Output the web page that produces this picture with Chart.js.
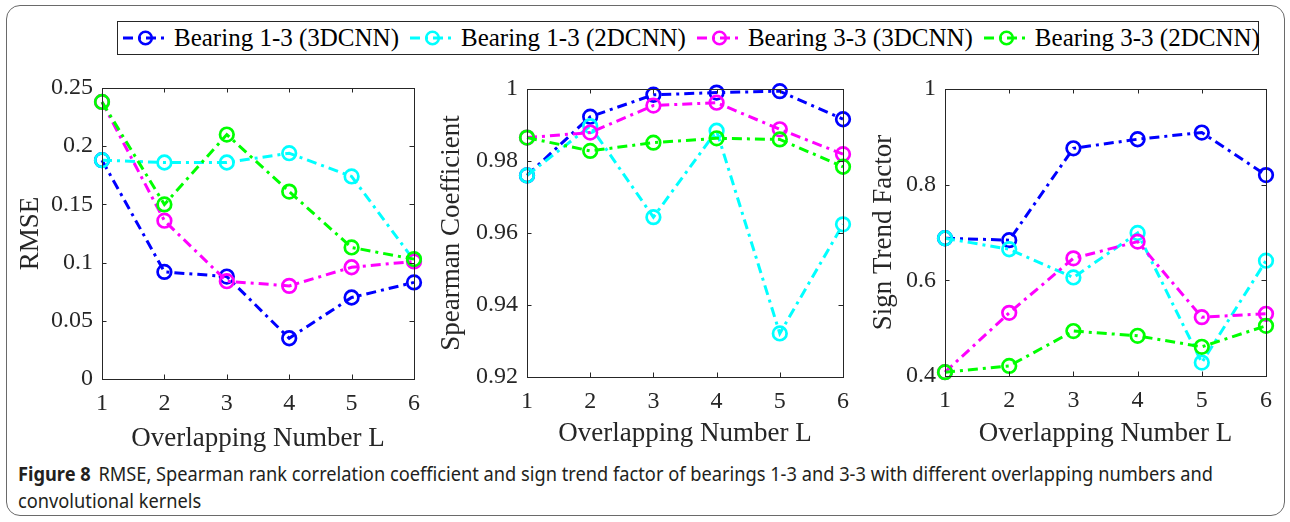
<!DOCTYPE html>
<html><head><meta charset="utf-8">
<script src="https://cdn.jsdelivr.net/npm/chart.js@4.4.0/dist/chart.umd.min.js"></script>
<style>
html,body{margin:0;padding:0;background:#fff;}
body{width:1290px;height:522px;position:relative;overflow:hidden;}
#frame{position:absolute;left:6px;top:5px;width:1279px;height:511px;border:1.5px solid #6a6a6a;border-radius:14px;box-sizing:border-box;}
canvas.cv{position:absolute;}
#legend{position:absolute;left:117px;top:21px;width:1142px;height:34px;border:1px solid #262626;box-sizing:border-box;background:#fff;
  display:flex;align-items:center;padding-left:5px;gap:11px;font-family:"Liberation Serif","Times New Roman",serif;font-size:25px;color:#000;}
.entry{display:flex;align-items:center;gap:6px;white-space:nowrap;}
.entry svg{display:block;}
#caption{position:absolute;left:18px;top:461px;font-family:"Noto Sans","Open Sans",sans-serif;font-size:19px;line-height:27px;color:#231f20;white-space:nowrap;transform-origin:0 0;}
#caption b{font-weight:bold;margin-right:8px;}
</style></head>
<body>
<div id="frame"></div>
<div id="legend"></div>
<canvas id="c1" class="cv"></canvas>
<canvas id="c2" class="cv"></canvas>
<canvas id="c3" class="cv"></canvas>
<div id="caption"><span id="cl1"><b>Figure 8</b>RMSE, Spearman rank correlation coefficient and sign trend factor of bearings 1-3 and 3-3 with different overlapping numbers and</span><br><span id="cl2">convolutional kernels</span></div>
<script>
// ---------------- data ----------------
const categories = [1, 2, 3, 4, 5, 6];
const seriesNames = ['Bearing 1-3 (3DCNN)', 'Bearing 1-3 (2DCNN)', 'Bearing 3-3 (3DCNN)', 'Bearing 3-3 (2DCNN)'];

const rmse_b13_3d = [0.188, 0.092, 0.088, 0.035, 0.070, 0.083];
const rmse_b13_2d = [0.188, 0.186, 0.186, 0.194, 0.174, 0.102];
const rmse_b33_3d = [0.238, 0.136, 0.084, 0.080, 0.096, 0.101];
const rmse_b33_2d = [0.238, 0.150, 0.210, 0.161, 0.113, 0.103];

const spear_b13_3d = [0.9760, 0.9923, 0.9984, 0.9990, 0.9994, 0.9916];
const spear_b13_2d = [0.9760, 0.9897, 0.9644, 0.9884, 0.9321, 0.9624];
const spear_b33_3d = [0.9865, 0.9879, 0.9954, 0.9962, 0.9888, 0.9819];
const spear_b33_2d = [0.9865, 0.9828, 0.9851, 0.9863, 0.9860, 0.9784];

const stf_b13_3d = [0.688, 0.684, 0.876, 0.895, 0.909, 0.820];
const stf_b13_2d = [0.688, 0.665, 0.606, 0.699, 0.428, 0.641];
const stf_b33_3d = [0.408, 0.532, 0.646, 0.681, 0.523, 0.530];
const stf_b33_2d = [0.408, 0.421, 0.494, 0.484, 0.461, 0.505];

const rmseTicks  = [0, 0.05, 0.1, 0.15, 0.2, 0.25];
const spearTicks = [0.92, 0.94, 0.96, 0.98, 1];
const stfTicks   = [0.4, 0.6, 0.8, 1];

const xTitle = 'Overlapping Number L';
const yTitles = ['RMSE', 'Spearman Coefficient', 'Sign Trend Factor'];

// ---------------- styles ----------------
const colors = ['#0000ff', '#00ffff', '#ff00ff', '#00ff00'];
const dashPattern = [10, 5, 3, 5];
const axisColor = '#262626';
const serif = '"Liberation Serif", "Times New Roman", serif';
Chart.defaults.font.family = serif;
Chart.defaults.font.size = 24;
Chart.defaults.color = axisColor;

// legend (HTML)
const legend = document.getElementById('legend');
seriesNames.forEach((n, i) => {
  const e = document.createElement('div');
  e.className = 'entry';
  e.innerHTML = `<svg width="45" height="30"><line x1="0" y1="15" x2="45" y2="15" stroke="${colors[i]}" stroke-width="3" stroke-dasharray="${dashPattern.join(' ')}"/><circle cx="22.5" cy="15" r="6.3" fill="none" stroke="${colors[i]}" stroke-width="2.6"/></svg><span>${n}</span>`;
  legend.appendChild(e);
});

// box + inward ticks plugin
const boxPlugin = {
  id: 'box',
  afterDatasetsDraw(chart) {
    const {ctx, chartArea: a, scales} = chart;
    ctx.save();
    ctx.strokeStyle = axisColor;
    ctx.lineWidth = 1;
    ctx.strokeRect(Math.round(a.left) + 0.5, Math.round(a.top) + 0.5, Math.round(a.right - a.left), Math.round(a.bottom - a.top));
    const L = 4.5;
    ctx.beginPath();
    scales.x.ticks.forEach((t, i) => {
      const px = Math.round(scales.x.getPixelForTick(i)) + 0.5;
      ctx.moveTo(px, a.top); ctx.lineTo(px, a.top + L);
      ctx.moveTo(px, a.bottom); ctx.lineTo(px, a.bottom - L);
    });
    scales.y.ticks.forEach(t => {
      const py = Math.round(scales.y.getPixelForValue(t.value)) + 0.5;
      ctx.moveTo(a.left, py); ctx.lineTo(a.left + L, py);
      ctx.moveTo(a.right, py); ctx.lineTo(a.right - L, py);
    });
    ctx.stroke();
    ctx.restore();
  }
};

function makeChart(id, series, yMin, yMax, yTicks, yTitle, g) {
  const cv = document.getElementById(id);
  cv.style.left = g.left + 'px'; cv.style.top = g.top + 'px';
  cv.width = g.w; cv.height = g.h;
  cv.style.width = g.w + 'px'; cv.style.height = g.h + 'px';
  const tickFont = {family: serif, size: 24, style: 'normal', weight: 'normal'};
  const titleFont = {family: serif, size: 27, style: 'normal', weight: 'normal'};
  new Chart(cv, {
    type: 'line',
    data: {
      labels: categories,
      datasets: series.map((d, i) => ({
        label: seriesNames[i], data: d,
        borderColor: colors[i], backgroundColor: 'rgba(0,0,0,0)',
        borderWidth: 3, borderDash: dashPattern,
        pointRadius: 6.8, pointBorderWidth: 2.7, pointStyle: 'circle',
        pointBackgroundColor: 'rgba(0,0,0,0)', pointBorderColor: colors[i],
        tension: 0, fill: false, clip: false, order: 4 - i
      }))
    },
    options: {
      responsive: false, animation: false, events: [], devicePixelRatio: 1,
      layout: {padding: {top: g.padTop, right: g.padRight, left: 0, bottom: 0}},
      plugins: {legend: {display: false}, tooltip: {enabled: false}},
      scales: {
        x: {
          type: 'category', offset: false,
          grid: {display: false, drawTicks: false, tickLength: 0}, border: {display: false},
          ticks: {color: axisColor, font: tickFont, padding: 10, maxRotation: 0, autoSkip: false},
          title: {display: true, text: xTitle, color: axisColor, font: titleFont, padding: 0},
          afterFit(s) { s.height = g.xH; }
        },
        y: {
          type: 'linear', min: yMin, max: yMax,
          grid: {display: false, drawTicks: false, tickLength: 0}, border: {display: false},
          afterBuildTicks(s) { s.ticks = yTicks.map(v => ({value: v})); },
          ticks: {color: axisColor, font: tickFont, padding: 9, callback: v => String(v)},
          title: {display: true, text: yTitle, color: axisColor, font: titleFont, padding: 0},
          afterFit(s) { s.width = g.yW; }
        }
      }
    },
    plugins: [boxPlugin]
  });
}

makeChart('c1', [rmse_b13_3d, rmse_b13_2d, rmse_b33_3d, rmse_b33_2d], 0, 0.25, rmseTicks, yTitles[0],
  {left: 15, top: 60, w: 415, h: 395, padTop: 28, padRight: 13, yW: 87, xH: 76});
makeChart('c2', [spear_b13_3d, spear_b13_2d, spear_b33_3d, spear_b33_2d], 0.92, 1, spearTicks, yTitles[1],
  {left: 436, top: 60, w: 424, h: 390, padTop: 29, padRight: 17, yW: 91, xH: 73});
makeChart('c3', [stf_b13_3d, stf_b13_2d, stf_b33_3d, stf_b33_2d], 0.4, 1, stfTicks, yTitles[2],
  {left: 868, top: 60, w: 414, h: 390, padTop: 29, padRight: 14, yW: 77, xH: 74});

// fit caption line 1 to reference width by horizontal condensing
const cl1 = document.getElementById('cl1');
const target = 1195;
const w = cl1.getBoundingClientRect().width;
document.getElementById('caption').style.transform = 'scaleX(' + (target / w).toFixed(4) + ')';
</script>
</body></html>
